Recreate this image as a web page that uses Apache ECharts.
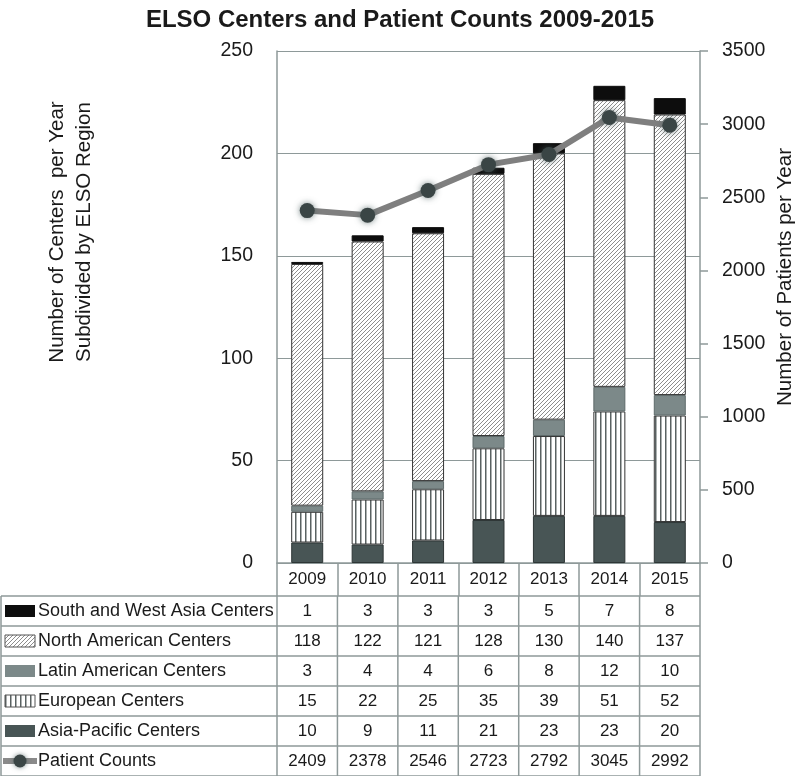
<!DOCTYPE html>
<html><head><meta charset="utf-8">
<script src="https://cdn.jsdelivr.net/npm/echarts@6/dist/echarts.min.js"></script>
<style>html,body{margin:0;padding:0;background:#fff}#c{width:800px;height:776px}</style>
</head><body><div id="c"></div>
<script>
const years = ['2009', '2010', '2011', '2012', '2013', '2014', '2015'];
const southWestAsia = [1, 3, 3, 3, 5, 7, 8];
const northAmerica = [118, 122, 121, 128, 130, 140, 137];
const latinAmerica = [3, 4, 4, 6, 8, 12, 10];
const europe = [15, 22, 25, 35, 39, 51, 52];
const asiaPacific = [10, 9, 11, 21, 23, 23, 20];
const patients = [2409, 2378, 2546, 2723, 2792, 3045, 2992];
const rowNames = ['South and West Asia Centers', 'North American Centers', 'Latin American Centers', 'European Centers', 'Asia-Pacific Centers', 'Patient Counts'];
const rowData = [southWestAsia, northAmerica, latinAmerica, europe, asiaPacific, patients];

const FONT = "'Liberation Sans', Arial, sans-serif";
const TXT = '#1a1a1a';
const LINEC = '#8e9999';

function diagCanvas() {
  const c = document.createElement('canvas'); c.width = 4; c.height = 4;
  const g = c.getContext('2d');
  g.fillStyle = '#fff'; g.fillRect(0, 0, 4, 4);
  g.strokeStyle = '#808080'; g.lineWidth = 0.9;
  g.beginPath();
  g.moveTo(-1, 5); g.lineTo(5, -1);
  g.moveTo(-3, 3); g.lineTo(3, -3);
  g.moveTo(1, 7); g.lineTo(7, 1);
  g.stroke();
  return c;
}
function vertCanvas() {
  const c = document.createElement('canvas'); c.width = 5; c.height = 4;
  const g = c.getContext('2d');
  g.fillStyle = '#fff'; g.fillRect(0, 0, 5, 4);
  g.fillStyle = '#5a6262'; g.fillRect(0, 0, 1.5, 4);
  return c;
}
const diagFill = { image: diagCanvas(), repeat: 'repeat' };
const vertFill = { image: vertCanvas(), repeat: 'repeat' };
const colSWA = '#0d0d0d', colLat = '#7c8989', colAP = '#485555';

const chart = echarts.init(document.getElementById('c'), null, { renderer: 'canvas' });
const barCommon = { type: 'bar', stack: 'c', barWidth: 32, yAxisIndex: 0 };
const option = {
  animation: false,
  backgroundColor: '#fff',
  title: { text: 'ELSO Centers and Patient Counts 2009-2015', left: 'center', top: 3,
    textStyle: { fontFamily: FONT, fontWeight: 'bold', fontSize: 24, color: TXT } },
  grid: { left: 277, right: 100, top: 51, height: 512 },
  xAxis: {
    type: 'category', data: years,
    axisLine: { lineStyle: { color: LINEC, width: 1.5 } },
    axisTick: { show: true, length: 33, lineStyle: { color: LINEC, width: 1.5 } },
    axisLabel: { fontFamily: FONT, fontSize: 17, color: TXT, margin: 8 }
  },
  yAxis: [
    { type: 'value', min: 0, max: 250, interval: 50,
      axisLine: { show: true, lineStyle: { color: LINEC, width: 1.5 } },
      axisTick: { show: false },
      splitLine: { lineStyle: { color: LINEC, width: 1.2 } },
      axisLabel: { fontFamily: FONT, fontSize: 19.5, color: TXT, margin: 24 } },
    { type: 'value', min: 0, max: 3500, interval: 500, position: 'right',
      axisLine: { show: true, lineStyle: { color: LINEC, width: 1.5 } },
      axisTick: { show: true, length: 8, lineStyle: { color: LINEC, width: 1.5 } },
      splitLine: { show: false },
      axisLabel: { fontFamily: FONT, fontSize: 19.5, color: TXT, margin: 22, formatter: v => String(v) } }
  ],
  series: [
    Object.assign({}, barCommon, { name: 'Asia-Pacific Centers', data: asiaPacific,
      itemStyle: { color: colAP, borderColor: '#2e3636', borderWidth: 1 } }),
    Object.assign({}, barCommon, { name: 'European Centers', data: europe,
      itemStyle: { color: vertFill, borderColor: '#333', borderWidth: 1 } }),
    Object.assign({}, barCommon, { name: 'Latin American Centers', data: latinAmerica,
      itemStyle: { color: colLat, borderColor: '#5e6a6a', borderWidth: 1 } }),
    Object.assign({}, barCommon, { name: 'North American Centers', data: northAmerica,
      itemStyle: { color: diagFill, borderColor: '#333', borderWidth: 1 } }),
    Object.assign({}, barCommon, { name: 'South and West Asia Centers', data: southWestAsia,
      itemStyle: { color: colSWA, borderColor: colSWA, borderWidth: 1 } }),
    { type: 'line', name: 'Patient Counts', yAxisIndex: 1, data: patients, z: 5,
      lineStyle: { color: '#7f7f7f', width: 6 },
      symbol: 'circle', symbolSize: 15,
      itemStyle: { color: '#3a4545', shadowBlur: 6, shadowColor: 'rgba(70,90,90,0.7)' } }
  ]
};
chart.setOption(option);

// Table below the chart, positioned from the category axis
const centers = years.map((y, i) => chart.convertToPixel({ xAxisIndex: 0 }, i));
const band = centers[1] - centers[0];
const leftEdge = centers[0] - band / 2;
const rightEdge = centers[centers.length - 1] + band / 2;
const yZero = chart.convertToPixel({ yAxisIndex: 0 }, 0);
const rowH = 30;
const tableTop = yZero + 33;
const graphics = [];
const lineStyle = { stroke: LINEC, lineWidth: 1.5 };
for (let r = 0; r <= rowNames.length; r++) {
  const y = tableTop + r * rowH;
  graphics.push({ type: 'line', shape: { x1: 1, y1: y, x2: rightEdge, y2: y }, style: lineStyle });
}
const tableBottom = tableTop + rowNames.length * rowH;
graphics.push({ type: 'line', shape: { x1: 1, y1: tableTop, x2: 1, y2: tableBottom }, style: lineStyle });
for (let i = 0; i <= years.length; i++) {
  const x = leftEdge + i * band;
  graphics.push({ type: 'line', shape: { x1: x, y1: tableTop, x2: x, y2: tableBottom }, style: lineStyle });
}
rowNames.forEach((name, r) => {
  const cy = tableTop + r * rowH + rowH / 2;
  graphics.push({ type: 'text', style: { text: name, x: 38, y: cy, textAlign: 'left', textVerticalAlign: 'middle',
    font: '18px ' + FONT, fill: TXT } });
  rowData[r].forEach((v, i) => {
    graphics.push({ type: 'text', style: { text: String(v), x: centers[i], y: cy, textAlign: 'center', textVerticalAlign: 'middle',
      font: '17px ' + FONT, fill: TXT } });
  });
});
// legend keys
const keyFills = [colSWA, diagFill, colLat, vertFill, colAP];
keyFills.forEach((f, r) => {
  const cy = tableTop + r * rowH + rowH / 2;
  graphics.push({ type: 'rect', shape: { x: 5, y: cy - 6, width: 30, height: 12 },
    style: { fill: f, stroke: (r === 1 || r === 3) ? '#555' : null, lineWidth: 1 } });
});
{
  const cy = tableTop + 5 * rowH + rowH / 2;
  graphics.push({ type: 'line', shape: { x1: 3, y1: cy, x2: 37, y2: cy }, style: { stroke: '#8a8a8a', lineWidth: 6 } });
  graphics.push({ type: 'circle', shape: { cx: 20, cy: cy, r: 6.5 }, style: { fill: '#3a4545', shadowBlur: 5, shadowColor: 'rgba(70,90,90,0.7)' } });
}
// axis titles
graphics.push({ type: 'text', rotation: Math.PI / 2, x: 71, y: 232,
  style: { text: 'Number of Centers  per Year\nSubdivided by ELSO Region', textAlign: 'center', textVerticalAlign: 'middle',
    font: '20.5px ' + FONT, fill: TXT, lineHeight: 27 } });
graphics.push({ type: 'text', rotation: Math.PI / 2, x: 785, y: 277,
  style: { text: 'Number of Patients per Year', textAlign: 'center', textVerticalAlign: 'middle',
    font: '20.5px ' + FONT, fill: TXT } });
chart.setOption({ graphic: graphics });
</script></body></html>
